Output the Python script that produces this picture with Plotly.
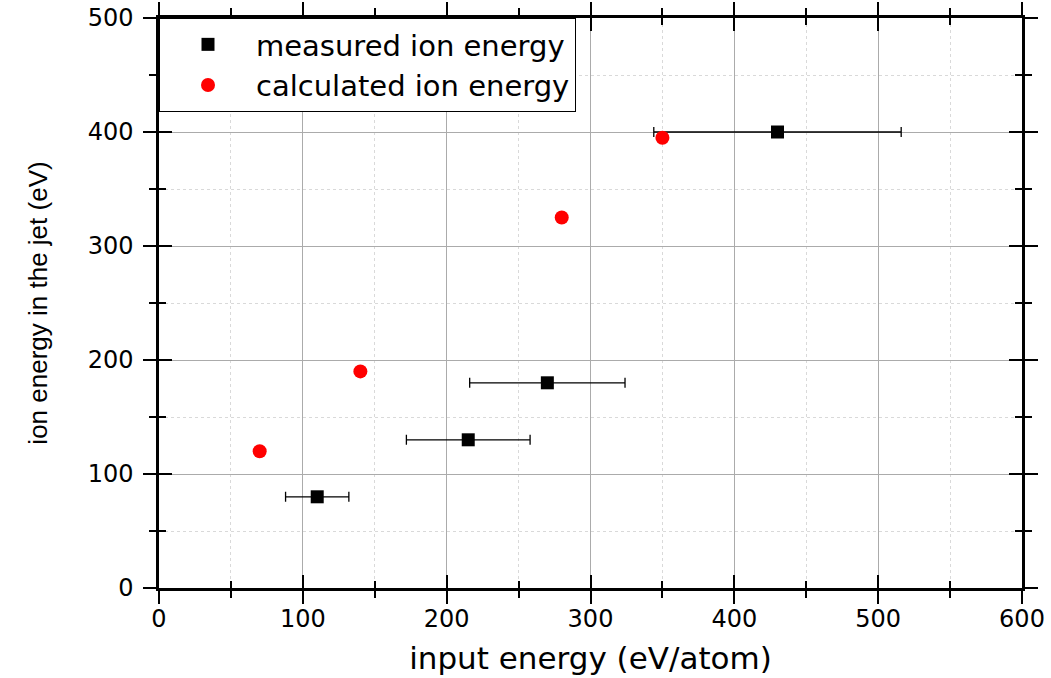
import plotly.graph_objects as go

# Data
meas_x = [110, 215, 270, 430]
meas_y = [80, 130, 180, 400]
meas_xerr = [22, 43, 54, 86]
calc_x = [70, 140, 280, 350]
calc_y = [120, 190, 325, 395]

FONT = "Liberation Sans, Arial, sans-serif"
WIDE = "DejaVu Sans, Verdana, sans-serif"

fig = go.Figure()
fig.add_trace(go.Scatter(
    x=meas_x, y=meas_y, mode="markers", name="measured ion energy",
    marker=dict(symbol="square", size=13, color="black"),
    error_x=dict(type="data", array=meas_xerr, visible=True, color="black",
                 thickness=1.3, width=5),
))
fig.add_trace(go.Scatter(
    x=calc_x, y=calc_y, mode="markers", name="calculated ion energy",
    xaxis="x2", yaxis="y2",
    marker=dict(symbol="circle", size=14, color="#ff0000"),
))

common = dict(
    showline=True, linecolor="black", linewidth=2.5, mirror="ticks",
    ticks="outside", ticklen=13, tickwidth=2, tickcolor="black",
    tickfont=dict(family=WIDE, size=24, color="black"),
    showgrid=True, gridcolor="#ababab", gridwidth=1,
    zeroline=False, automargin=False,
    minor=dict(ticks="outside", ticklen=7, tickwidth=2, tickcolor="black",
               showgrid=True, gridcolor="#d9d9d9", griddash="3px,3px", gridwidth=1,
               dtick=50),
)
inner = dict(
    showticklabels=False, showgrid=False, showline=False, zeroline=False, mirror="ticks",
    ticks="inside", ticklen=13, tickwidth=2, tickcolor="black", dtick=100, tick0=0,
    automargin=False,
    minor=dict(ticks="inside", ticklen=7, tickwidth=2, tickcolor="black", dtick=50, showgrid=False),
)

fig.update_layout(
    width=1051, height=678,
    margin=dict(l=159, r=29, t=18, b=90),
    paper_bgcolor="white", plot_bgcolor="white",
    font=dict(family=FONT, color="black"),
    xaxis=dict(range=[0, 600], dtick=100, tick0=0, ticklabelstandoff=-6,
               title=dict(text="input energy (eV/atom)", font=dict(family=WIDE, size=31), standoff=16),
               **common),
    yaxis=dict(range=[0, 500], dtick=100, tick0=0, ticklabelstandoff=5,
               title=dict(text="ion energy in the jet (eV)", font=dict(family=FONT, size=26), standoff=33),
               **common),
    xaxis2=dict(range=[0, 600], overlaying="x", anchor="y2", side="bottom", matches="x", **inner),
    yaxis2=dict(range=[0, 500], overlaying="y", anchor="x2", side="left", matches="y", **inner),
    legend=dict(x=0, y=1, xanchor="left", yanchor="top",
                bgcolor="white", bordercolor="black", borderwidth=1,
                font=dict(family=WIDE, size=29, color="black"),
                itemwidth=86, tracegroupgap=0),
    showlegend=True,
)

fig.write_html("out.html")
